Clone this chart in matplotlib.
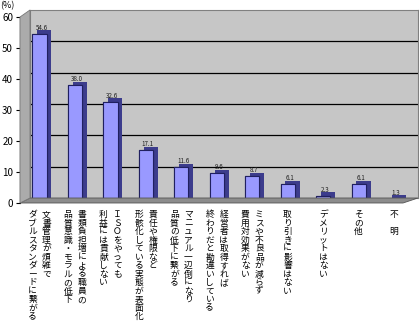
import numpy as np
import matplotlib.pyplot as plt
import matplotlib.patheffects as pe
from matplotlib.patches import Polygon

plt.rcParams['font.family'] = ['Noto Sans CJK JP', 'DejaVu Sans']

# answers (%)
values = [54.6, 38.0, 32.6, 17.1, 11.6, 9.6, 8.7, 6.1, 2.3, 6.1, 1.3]

# category labels, one list per bar, columns in reading order (right to left)
labels = [
    ['文書管理が煩雑で', 'ダブルスタンダードに繋がる'],
    ['書類負担増による職員の', '品質意識・モラルの低下'],
    ['ＩＳＯをやっても', '利益には貢献しない'],
    ['責任や権限など', '形骸化している実態が表面化'],
    ['マニュアル一辺倒になり', '品質の低下に繋がる'],
    ['経営者は取得すれば', '終わりだと勘違いしている'],
    ['ミスや不良品が減らず', '費用対効果がない'],
    ['取り引きに影響はない'],
    ['デメリットはない'],
    ['その他'],
    ['不　明'],
]

yticks = [0, 10, 20, 30, 40, 50, 60]

W, H = 420, 324
fig = plt.figure(figsize=(4.2, 3.24), dpi=100)

def box(x0, y0, x1, y1):
    # pixel box (top-left origin) -> figure fraction rect
    return [x0 / W, 1 - y1 / H, (x1 - x0) / W, (y1 - y0) / H]

# back wall with gridlines
back = fig.add_axes(box(30, 10, 418, 198))
back.set_facecolor('#c6c6c6')
back.set_xlim(0, 1)
back.set_ylim(0, 60)
for v in yticks[1:-1]:
    back.axhline(v, color='black', lw=0.9)
back.set_xticks([])
back.set_yticks([])
for s in back.spines.values():
    s.set_color('#808080')
    s.set_linewidth(0.8)

# floor and left wall
floor = Polygon([(20 / W, 1 - 203 / H), (30 / W, 1 - 198 / H), (418 / W, 1 - 198 / H),
                 (403 / W, 1 - 203 / H)], closed=True, transform=fig.transFigure,
                facecolor='#8c8c8c', edgecolor='#555555', lw=0.6)
wall = Polygon([(20 / W, 1 - 203 / H), (20 / W, 1 - 17 / H), (30 / W, 1 - 10 / H),
                (30 / W, 1 - 198 / H)], closed=True, transform=fig.transFigure,
               facecolor='#ababab', edgecolor='#777777', lw=0.6)
fig.patches.extend([floor, wall])

# front axes with bars
ax = fig.add_axes(box(20, 17, 410, 203))
ax.set_facecolor('none')
x = np.arange(len(values))
bars = ax.bar(x, values, 0.4, color='#9999ff', edgecolor='#202060', linewidth=0.8,
              zorder=3)
for b in bars:
    b.set_path_effects([pe.withSimplePatchShadow(offset=(3.5, 2.5),
                                                 shadow_rgbFace='#3c3c8c', alpha=1.0),
                        pe.Normal()])
for xi, v in zip(x, values):
    ax.annotate(f'{v:.1f}', (xi, v), xytext=(2, 2), textcoords='offset pixels',
                ha='center', va='bottom', fontsize=4.5, color='#202020', zorder=4)

ax.set_xlim(-0.55, 10.45)
ax.set_ylim(0, 60)
ax.set_yticks(yticks)
ax.set_yticklabels([str(t) for t in yticks], fontsize=7)
ax.tick_params(axis='y', length=3, pad=2)
ax.set_xticks([])
for s in ['top', 'right']:
    ax.spines[s].set_visible(False)
ax.spines['bottom'].set_visible(False)
ax.spines['left'].set_linewidth(0.8)

fig.text(0.0, 1 - 1 / H, '(%)', fontsize=6.5, va='top', ha='left')

# vertical category labels below the bars
for xi, cols in zip(x, labels):
    n = len(cols)
    for j, line in enumerate(cols):
        dx = (n - 1) * 7 - j * 14
        ax.annotate('\n'.join(line), (xi, 0), xycoords=('data', 'axes fraction'),
                    xytext=(dx, -7), textcoords='offset pixels',
                    ha='center', va='top', fontsize=6.3, linespacing=0.93,
                    annotation_clip=False)

fig.savefig('out.png', dpi=100)
